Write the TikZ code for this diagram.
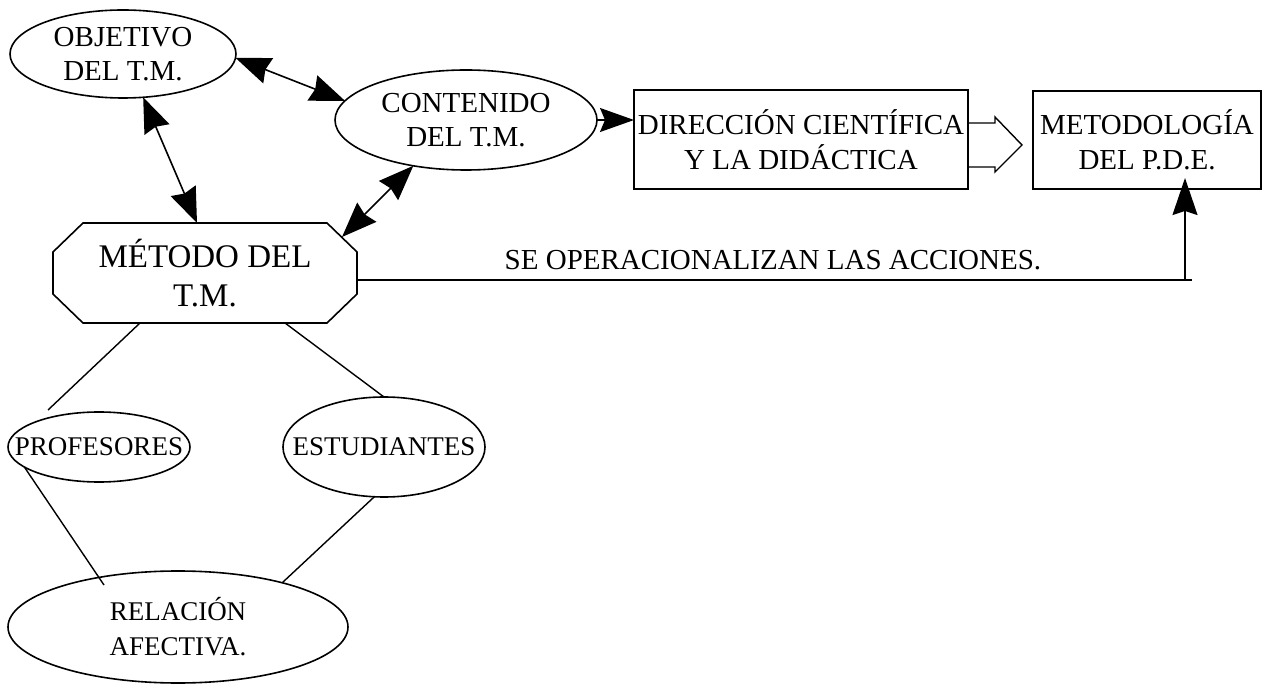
\documentclass[tikz,border=0pt]{standalone}
\usepackage{fontspec}
\setmainfont{Liberation Serif}
\usetikzlibrary{shapes.geometric,arrows.meta,calc}
\begin{document}
\begin{tikzpicture}[x=1pt,y=-1pt,line width=1.6pt,
  ell/.style={draw,ellipse,inner xsep=-100pt,inner ysep=-30pt,outer sep=0pt,align=center,font=\fontsize{29}{34}\selectfont},
  ells/.style={ell,font=\fontsize{27}{35}\selectfont},
  box/.style={draw,rectangle,inner sep=0pt,outer sep=0pt,align=center,font=\fontsize{29}{35}\selectfont},
  dbl/.style={{Stealth[length=35pt,width=27pt,inset=3pt]}-{Stealth[length=35pt,width=27pt,inset=3pt]}},
  one/.style={-{Stealth[length=34pt,width=24pt,inset=5pt]}},
  plain/.style={line width=1.4pt}
]
\useasboundingbox (0,0) rectangle (1267,684);

\node[ell,minimum width=226pt,minimum height=88pt] (obj) at (123,54) {OBJETIVO\\DEL T.M.};
\node[ell,minimum width=262pt,minimum height=100pt] (cont) at (466,120) {CONTENIDO\\DEL T.M.};
\node[box,minimum width=334pt,minimum height=99pt] (dir) at (801,139.5) {DIRECCIÓN CIENTÍFICA\\Y LA DIDÁCTICA};
\node[box,minimum width=228pt,minimum height=98pt] (pde) at (1147,140) {METODOLOGÍA\\DEL P.D.E.};
\node[inner sep=0pt,outer sep=0pt,minimum width=304pt,minimum height=100pt,align=center,font=\fontsize{33}{39}\selectfont] (method) at (205,273) {MÉTODO DEL\\T.M.};
\draw ($(method.north west)+(30,0)$) -- ($(method.north east)+(-30,0)$) -- ($(method.north east)+(0,29)$) -- ($(method.south east)+(0,-29)$) -- ($(method.south east)+(-30,0)$) -- ($(method.south west)+(30,0)$) -- ($(method.south west)+(0,-29)$) -- ($(method.north west)+(0,29)$) -- cycle;
\node[ells,minimum width=182pt,minimum height=70pt] (prof) at (99,447) {PROFESORES};
\node[ells,minimum width=202pt,minimum height=100pt] (est) at (384,447) {ESTUDIANTES};
\node[ells,minimum width=340pt,minimum height=112pt] (rel) at (178,627) {RELACIÓN\\AFECTIVA.};
\node[anchor=base,inner sep=0pt,font=\fontsize{29}{34}\selectfont] (lbl) at (773,270) {SE OPERACIONALIZAN LAS ACCIONES.};

% arrows
\draw[dbl] (obj.358) -- (cont.171);
\draw[dbl] (obj.295) -- ($(method.north)+(-8,0)$);
\draw[dbl] (cont.221) -- ($(method.north east)+(-15,14)$);
\draw[one] (cont.east) -- (cont.east -| dir.west);

% hollow arrow
\draw[line width=1.4pt] (dir.east |- 0,123) -- (995,123) -- (995,117) -- (1022,145) -- (995,172) -- (995,167) -- (dir.east |- 0,167);

% operational line
\coordinate (lineend) at (1192,280);
\coordinate (vbase) at (1185,280);
\draw[plain] ([yshift=-7pt]method.east) -- (lineend);
\draw[plain,-{Stealth[length=37pt,width=25pt,inset=4pt]},shorten >=-11pt] (vbase) -- (vbase |- pde.south);

% plain links
\draw[plain] ($(method.south)+(-65,0)$) -- ($(prof.center)+(-51,-37)$);
\draw[plain] ($(method.south)+(80,0)$) -- (est.north);
\draw[plain] (prof.195) -- ($(rel.center)+(-74,-42)$);
\draw[plain] (est.259) -- (rel.23);
\end{tikzpicture}
\end{document}
